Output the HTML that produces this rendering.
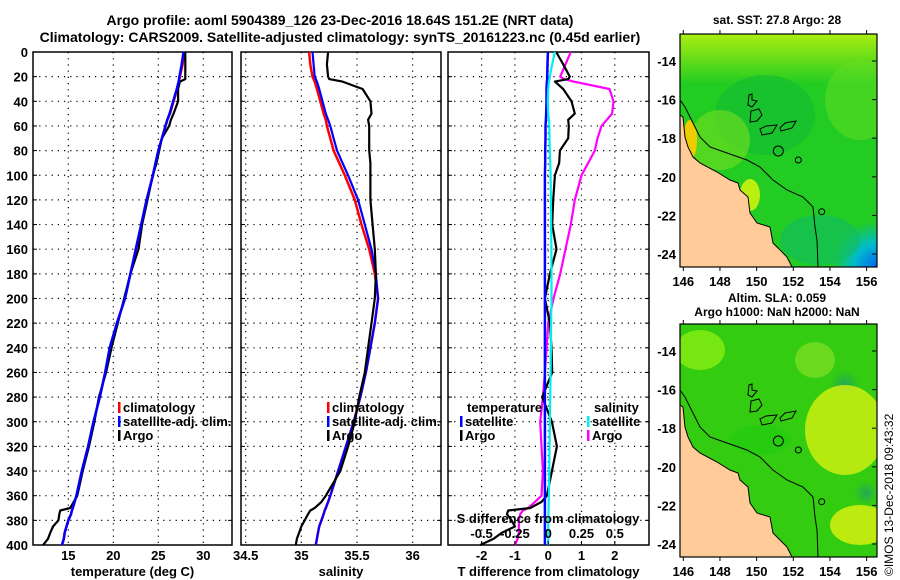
<!DOCTYPE html>
<html><head><meta charset="utf-8"><style>
body{margin:0;background:#fff;}
svg{display:block;font-family:"Liberation Sans",Arial,sans-serif;font-weight:bold;}
</style></head><body>
<svg id="c" width="900" height="580" viewBox="0 0 900 580">
<defs>
<clipPath id="m1"><rect x="680" y="34" width="197" height="233"/></clipPath>
<clipPath id="m2"><rect x="680" y="324" width="197" height="233"/></clipPath>
<radialGradient id="blueg" cx="1" cy="1" r="0.6"><stop offset="0" stop-color="#0066ee"/><stop offset="0.5" stop-color="#00bbcc"/><stop offset="1" stop-color="#00bbcc" stop-opacity="0"/></radialGradient>
<linearGradient id="topband" x1="0" y1="0" x2="0" y2="1"><stop offset="0" stop-color="#aaee11"/><stop offset="1" stop-color="#aaee11" stop-opacity="0"/></linearGradient>
<radialGradient id="dg" cx="0.5" cy="0.5" r="0.5"><stop offset="0" stop-color="#22aa55"/><stop offset="1" stop-color="#22aa55" stop-opacity="0"/></radialGradient>
</defs>
<text x="340" y="25" text-anchor="middle" font-size="14">Argo profile: aoml 5904389_126 23-Dec-2016 18.64S 151.2E (NRT data)</text>
<text x="340" y="42" text-anchor="middle" font-size="14">Climatology: CARS2009. Satellite-adjusted climatology: synTS_20161223.nc (0.45d earlier)</text>
<g id="plots"></g>
<g id="maps"></g>
<text transform="translate(893,576) rotate(-90)" font-size="12" font-weight="normal">©IMOS 13-Dec-2018 09:43:32</text>
</svg>
<script>
// ---- data ----
const depths = [0,10,20,22,24,30,40,50,55,60,70,80,90,100,120,140,160,180,200,220,240,260,280,300,320,340,360,365,370,372,375,380,385,390,395,400];
const tempClim = [27.9,27.7,27.4,27.35,27.3,27.1,26.7,26.3,26.0,25.8,25.4,25.0,24.7,24.4,23.7,23.1,22.5,21.9,21.3,20.4,19.6,19.1,18.5,17.8,17.2,16.5,15.9,15.7,15.5,15.4,15.3,15.0,14.8,14.6,14.5,14.3];
const tempSat = [27.8,27.6,27.35,27.3,27.25,27.05,26.65,26.25,26.0,25.8,25.4,25.0,24.7,24.4,23.7,23.1,22.5,21.9,21.3,20.4,19.6,19.1,18.5,17.8,17.2,16.5,15.9,15.7,15.5,15.4,15.3,15.0,14.8,14.6,14.5,14.3];
const tempArgo = [28.0,28.0,28.0,28.0,27.4,27.2,27.2,26.7,26.4,26.2,25.4,25.1,24.8,24.4,23.8,23.2,22.8,21.9,21.2,20.5,19.8,19.2,18.4,17.9,17.3,16.6,16.0,15.6,15.2,14.1,14.0,13.9,13.3,13.0,12.75,12.2];
const salClim = [35.07,35.08,35.10,35.11,35.12,35.14,35.17,35.20,35.22,35.23,35.26,35.29,35.34,35.39,35.48,35.54,35.61,35.66,35.69,35.66,35.62,35.58,35.53,35.47,35.40,35.33,35.26,35.24,35.22,35.21,35.20,35.18,35.16,35.15,35.14,35.13];
const salSat = [35.10,35.11,35.12,35.13,35.14,35.16,35.19,35.22,35.24,35.26,35.29,35.32,35.37,35.42,35.51,35.57,35.63,35.67,35.69,35.66,35.62,35.58,35.53,35.47,35.40,35.33,35.26,35.24,35.22,35.21,35.20,35.18,35.16,35.15,35.14,35.13];
const salArgo = [35.24,35.23,35.24,35.25,35.37,35.55,35.62,35.63,35.60,35.61,35.61,35.61,35.62,35.62,35.62,35.64,35.66,35.67,35.66,35.63,35.60,35.57,35.52,35.48,35.42,35.35,35.22,35.18,35.12,35.08,35.06,35.03,35.0,34.98,34.96,34.95];
const dTsat = [-0.01,-0.02,-0.03,-0.03,-0.04,-0.05,-0.05,-0.06,-0.07,-0.08,-0.08,-0.09,-0.09,-0.1,-0.1,-0.1,-0.1,-0.1,-0.1,-0.1,-0.1,-0.1,-0.1,-0.1,-0.1,-0.1,-0.1,-0.1,-0.1,-0.1,-0.1,-0.1,-0.1,-0.1,-0.1,-0.1];
const dTargo = [0.24,0.45,0.65,0.6,0.2,0.45,0.7,0.8,0.6,0.62,0.6,0.35,0.33,0.2,0.15,0.12,0.25,0.05,-0.1,0.05,0.1,0.12,-0.18,0.11,0.26,0.11,-0.04,-0.2,-0.54,-1.2,-1.24,-1.1,-1.0,-1.39,-1.64,-2.04];
const dSsat = [0.05,0.03,0.012,0.01,0.005,0.0,-0.003,0.0,0.005,0.008,0.01,0.012,0.015,0.018,0.02,0.022,0.024,0.025,0.025,0.022,0.02,0.018,0.015,0.013,0.01,0.008,0.005,0.004,0.003,0.002,0.002,0.001,0.0,0.0,0.0,0.0];
const dSargo = [0.17,0.13,0.09,0.12,0.19,0.46,0.49,0.48,0.44,0.40,0.37,0.35,0.30,0.25,0.20,0.17,0.13,0.09,0.04,0.0,-0.012,-0.025,-0.04,-0.06,-0.05,-0.04,-0.05,-0.1,-0.15,-0.19,-0.21,-0.22,-0.22,-0.22,-0.23,-0.25];
const depthTicks = [0,20,40,60,80,100,120,140,160,180,200,220,240,260,280,300,320,340,360,380,400];
const tempTicks = [15,20,25,30];
const salTicks = [34.5,35,35.5,36];
const dTTicks = [-2,-1,0,1,2];
const dSTicks = ["-0.5","-0.25","0","0.25","0.5"];
const latTicks = [-14,-16,-18,-20,-22,-24];
const lonTicks = [146,148,150,152,154,156];

// ---- scales ----
const Y0=52, Y1=545;
const yD = d => Y0 + d*(Y1-Y0)/400;
const xT = t => 68.3 + (t-15)*9;
const xS = s => 245.7 + (s-34.5)*111.3;
const xDT = t => 548.2 + t*33.3;
const xDS = s => 548.2 + s*4*33.3;
const NS='http://www.w3.org/2000/svg';
function el(tag, attrs, parent, txt){const e=document.createElementNS(NS,tag);for(const k in attrs)e.setAttribute(k,attrs[k]);if(txt!==undefined)e.textContent=txt;parent.appendChild(e);return e;}
const G=document.getElementById('plots');

const panels=[
 {x0:33,x1:232,name:'temperature-panel',xf:xT,ticks:tempTicks,title:'temperature (deg C)'},
 {x0:241,x1:441,name:'salinity-panel',xf:xS,ticks:salTicks,title:'salinity'},
 {x0:448,x1:649,name:'difference-panel',xf:xDT,ticks:dTTicks,title:'T difference from climatology'}
];
panels.forEach((p,i)=>{
  const g=el('g',{},G);
  
  
  depthTicks.forEach(d=>{ if(d>0&&d<400){const l=el('line',{x1:p.x0,x2:p.x1,y1:yD(d),y2:yD(d),stroke:'#000','stroke-width':1.2,'stroke-dasharray':'1.2 5'},g);
    
    }
    el('line',{x1:p.x0,x2:p.x0+4,y1:yD(d),y2:yD(d),stroke:'#000'},g);
    el('line',{x1:p.x1,x2:p.x1-4,y1:yD(d),y2:yD(d),stroke:'#000'},g);
  });
  p.ticks.forEach(t=>{const x=p.xf(t);
    const l=el('line',{x1:x,x2:x,y1:Y0,y2:Y1,stroke:'#000','stroke-width':1.2,'stroke-dasharray':'1.2 5'},g);
    
    
    const tl=el('text',{x:x,y:560,'text-anchor':'middle','font-size':13},g,String(t));
    
    
  });
  const at=el('text',{x:(p.x0+p.x1)/2,y:576,'text-anchor':'middle','font-size':13},g,p.title);
  
  
  const fr=el('rect',{x:p.x0,y:Y0,width:p.x1-p.x0,height:Y1-Y0,fill:'none',stroke:'#000','stroke-width':1.5},g);
  
  
});
depthTicks.forEach(d=>{const t=el('text',{x:28,y:yD(d)+5,'text-anchor':'end','font-size':13},G,String(d));
  
  });

function line(vals,xf,color,w,name){
  const pts=vals.map((v,i)=>xf(v).toFixed(1)+','+yD(depths[i]).toFixed(1)).join(' ');
  const l=el('polyline',{points:pts,fill:'none',stroke:color,'stroke-width':w,'stroke-linejoin':'round'},G);
  
  
}
line(tempClim,xT,'#f00',2.5,'temp-climatology-line');
line(tempArgo,xT,'#000',2.2,'temp-argo-line');
line(tempSat,xT,'#00f',2.5,'temp-satellite-line');
line(salClim,xS,'#f00',2.5,'sal-climatology-line');
line(salSat,xS,'#00f',2.2,'sal-satellite-line');
line(salArgo,xS,'#000',2.2,'sal-argo-line');
line(dSargo,xDS,'#f0f',2.2,'sdiff-argo-line');
line(dTargo,xDT,'#000',2.2,'tdiff-argo-line');
line(dTsat,xDT,'#00f',2.5,'tdiff-satellite-line');
line(dSsat,xDS,'#0ee',2.2,'sdiff-satellite-line');

const sdt=el('text',{x:548,y:523,'text-anchor':'middle','font-size':13},G,'S difference from climatology');


dSTicks.forEach(s=>{const x=xDS(parseFloat(s));
  el('line',{x1:x,x2:x,y1:Y1,y2:Y1-4,stroke:'#000'},G);
  const t=el('text',{x:x,y:538,'text-anchor':'middle','font-size':13},G,s);
  
  });

function leg(x,y,color,label,name){
  const g=el('g',{},G);
  
  
  if(color) el('rect',{x:x,y:y-10,width:2.5,height:11,fill:color},g);
  el('text',{x:x+5,y:y,'font-size':13},g,label);
}
leg(118,412,'#f00','climatology','legend-temp-climatology');
leg(118,426,'#00f','satellite-adj. clim.','legend-temp-satellite');
leg(118,440,'#000','Argo','legend-temp-argo');
leg(327,412,'#f00','climatology','legend-sal-climatology');
leg(327,426,'#00f','satellite-adj. clim.','legend-sal-satellite');
leg(327,440,'#000','Argo','legend-sal-argo');
leg(462,412,null,'temperature','legend-diff-temperature-heading');
leg(460,426,'#00f','satellite','legend-diff-temp-satellite');
leg(460,440,'#000','Argo','legend-diff-temp-argo');
leg(589,412,null,'salinity','legend-diff-salinity-heading');
leg(587,426,'#0ee','satellite','legend-diff-sal-satellite');
leg(587,440,'#f0f','Argo','legend-diff-sal-argo');

// ---- maps ----
const M=document.getElementById('maps');
const coast="680,115 683,117 685,137 688,147 693,157 700,163 717,172 730,180 738,183 740,190 748,197 750,213 757,223 770,227 773,243 787,257 792,267";
const iso="680,100 685,107 693,123 700,137 710,147 727,153 747,160 760,167 773,180 787,190 803,197 813,207 815,227 817,240 818,267";
function drawMap(off,name,title1,title2,top){
  const g=el('g',{},M);
  
  
  const c=el('g',{'clip-path':top?'url(#m1)':'url(#m2)'},g);
  const gt=el('g',{transform:'translate(0,'+off+')'},c);
  if(top){
    el('rect',{x:680,y:34,width:197,height:233,fill:'#22cc22'},gt);
    el('rect',{x:680,y:34,width:197,height:50,fill:'url(#topband)'},gt);
    el('ellipse',{cx:860,cy:100,rx:35,ry:40,fill:'#66dd22',opacity:0.5},gt);
    el('ellipse',{cx:765,cy:115,rx:50,ry:40,fill:'#11bb33',opacity:0.6},gt);
    el('ellipse',{cx:720,cy:140,rx:30,ry:30,fill:'#77dd22',opacity:0.6},gt);
    el('ellipse',{cx:690,cy:140,rx:7,ry:20,fill:'#eecc00'},gt);
    el('ellipse',{cx:750,cy:195,rx:10,ry:16,fill:'#bbee11'},gt);
    el('rect',{x:800,y:190,width:77,height:77,fill:'url(#blueg)'},gt);
    el('ellipse',{cx:820,cy:240,rx:40,ry:25,fill:'#11bb66',opacity:0.6},gt);
  } else {
    el('rect',{x:680,y:34,width:197,height:233,fill:'#33cc11'},gt);
    el('ellipse',{cx:700,cy:60,rx:25,ry:20,fill:'#88ee11',opacity:0.8},gt);
    el('ellipse',{cx:815,cy:70,rx:20,ry:18,fill:'#77dd22',opacity:0.8},gt);
    el('ellipse',{cx:845,cy:95,rx:15,ry:15,fill:'url(#dg)'},gt);
    el('ellipse',{cx:845,cy:140,rx:40,ry:45,fill:'#ccee11',opacity:0.85},gt);
    el('ellipse',{cx:860,cy:235,rx:30,ry:20,fill:'#ccee11',opacity:0.9},gt);
    el('ellipse',{cx:866,cy:203,rx:12,ry:12,fill:'url(#dg)'},gt);
    el('ellipse',{cx:760,cy:150,rx:30,ry:15,fill:'#22cc11',opacity:0.7},gt);
  }
  el('polygon',{points:coast+' 680,267',fill:'#ffcc99',stroke:'#000','stroke-width':1},gt);
  el('polyline',{points:iso,fill:'none',stroke:'#000','stroke-width':1},gt);
  el('path',{d:'M749,95 L752,94 L752,100 L757,101 L752,107 L748,105Z M751,111 L759,109 L762,115 L757,121 L750,122Z M760,129 L766,126 L777,125 L772,133 L762,135Z M780,128 L785,123 L796,121 L792,128 L781,131Z',fill:'none',stroke:'#000','stroke-width':1},gt);
  el('circle',{cx:778.3,cy:151,r:5,fill:'none',stroke:'#000','stroke-width':1},gt);
  el('circle',{cx:798.3,cy:160,r:3,fill:'none',stroke:'#000','stroke-width':1},gt);
  el('circle',{cx:821.7,cy:211.7,r:3,fill:'none',stroke:'#000','stroke-width':1},gt);
  const fr=el('rect',{x:680,y:34+off,width:197,height:233,fill:'none',stroke:'#000','stroke-width':1.2},g);
  
  
  latTicks.forEach(la=>{const y=off+61+(-14-la)*19.3;
    el('line',{x1:876,x2:872,y1:y,y2:y,stroke:'#000'},g);
    const t=el('text',{x:676,y:y+5,'text-anchor':'end','font-size':13},g,String(la));
    
    });
  lonTicks.forEach(lo=>{const x=683.3+(lo-146)*18.33;
    el('line',{x1:x,x2:x,y1:off+34,y2:off+30,stroke:'#000'},g);
    el('line',{x1:x,x2:x,y1:off+267,y2:off+271,stroke:'#000'},g);
    const t=el('text',{x:x,y:off+286,'text-anchor':'middle','font-size':13},g,String(lo));
    
    });
  const t1=el('text',{x:777,y:top?24:off+12,'text-anchor':'middle','font-size':12},g,title1);
  
  
  if(title2){const t2=el('text',{x:777,y:off+26,'text-anchor':'middle','font-size':12},g,title2);
    
    }
}
drawMap(0,'sst-map','sat. SST: 27.8 Argo: 28',null,true);
drawMap(290,'sla-map','Altim. SLA: 0.059','Argo h1000: NaN h2000: NaN',false);
</script>
</body></html>
